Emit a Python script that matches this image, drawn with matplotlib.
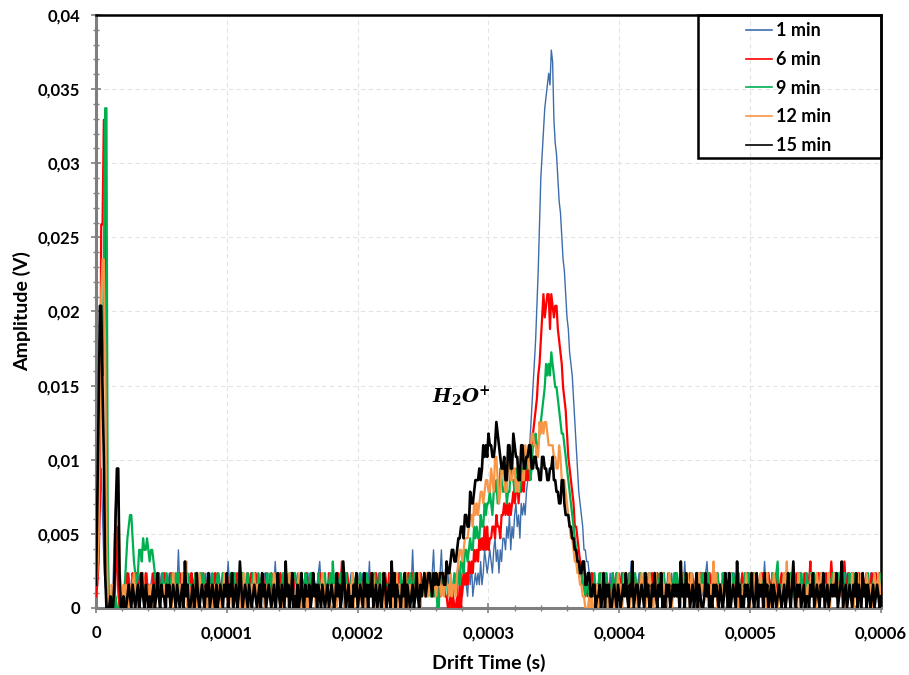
import string
import numpy as np
import matplotlib
matplotlib.use("Agg")
import matplotlib.pyplot as plt
from matplotlib.ticker import MultipleLocator, FuncFormatter
from matplotlib.patches import Rectangle

# sample spacing of the drift time axis (s) and ADC step of the amplitude (V)
T_STEP = 1e-6
ADC_STEP = 0.000784

# amplitudes, one character per sample = ADC level
# (0-9, A-Z = 10-35, a-z = 36-61); blocks: start spike / baseline / peak / baseline
LEVEL_CHARS = string.digits + string.ascii_uppercase + string.ascii_lowercase

LABELS = ["1 min", "6 min", "9 min", "12 min", "15 min"]
COLORS = ["#3d6dab", "#ff0000", "#00b050", "#f79646", "#000000"]
WIDTHS = [1.0, 1.6, 1.6, 1.6, 1.9]

LEVELS_1MIN = (
    "2369C84210 0102694100 1002132213 2132231223 12"
    "2312231232 1322312213 2523122312 3212322132 2231232213 1232213224 2312232131 2213223122 3221232312 2312242132"
    "1322313221 2232132213 3122321234 2213122312 2321232231 3123222132 2231322412 1322312232 2132231223 3221323212 52312232"
    "2312322352312352132312 2132142312 3213241232 3242354345 4356453546 6576857689 7869"
    "898ABDFHJL NQTXbdfhijkjml gedbZYWUTRPOML KIGECA98755443233212"
    "2231232213 1322123232 2123242132 2312232231 3122132223 2213223122 3223124212 2132231322 1234221322 2312213232"
    "3221323221 2132231223 2322312423 1223122312 2123223212 3212231322 3223122323 2132213223 2213232242 3122312213"
    "1232232132 1232212"
)
LEVELS_6MIN = (
    "1249XXggE3 0001037200 1021322132 2312321232 21"
    "2132223121 3212231322 2232132212 1322312232 3122321223 2312232132 2213223122 3221322312 3212232132 2132213223"
    "2231222312 3122132213 2123322123 2312213222 2213224122 3221322312 3221312232 2132232213 2132212322 3212231322 31222132"
    "231223122132213221 100201001020 232324343545 465657575667 768776889898 989A9AB9BABA"
    "CBCBDEFG HIKLNP RPQRRORQ PQQO NMLJIH FDCBA9 776543 221212132212"
    "2231223212 1322312232 3221322312 2132213223 2322132231 3122312213 2213222312 3221232132 3221232213 2312213222"
    "2132222312 3212312232 2322131222 3213223122 3212232312 2231322132 2241322132 3122312242 2322131242 1322312213"
    "2132231223 2132231"
)
LEVELS_9MIN = (
    "369MMKThh6 0010010001 0024678864 3235546556 54"
    "5543231223 1232223123 2312232132 2212322132 3221322312 2322132221 1322312232 3222312232 2132231223 1232223122"
    "2312213223 3212232132 2231322132 2223122314 2132231223 2212322312 3122132213 2322132232 2213223122 1322312232 13223122"
    "2321221312 2003223231 2212 3233244355 4565576766 8779899A98 AAB99CBAAB 9AACBBACBA ABCBDCCDBC"
    "EEFDEF GHIJLKLKML KJJIHGFF EDCBA987 65443322 1221221312"
    "2312223122 1322312213 3221322132 2132231223 2213222312 3122312232 3222132212 2312213223 2322312232 1322132213"
    "1223221322 2132231223 3122322132 2213223412 2231222312 3122132213 2132232212 2312213223 3221322231 2132231322"
    "2231223122 2312232"
)
LEVELS_12MIN = (
    "236IRUUM61 002137BB41 0212102123 1202123121 02"
    "1201221021 2102120312 2120312402 1021201321 1210212012 0212013120 2102121201 1302120213 1220121012 2101320121"
    "2012203121 0213102120 0212120121 1320121021 2101221302 0121302120 1212012212 3012021301 0121201230 2120130212 12121302"
    "2123122132 1232121322 131221 34554566 67887989 89AA9ABBAA CBADDB9ACC BAADCBBCCA BA"
    "CCBBEDDCCFFEEDDGFG FGGFEE EEDDCCEDBBBA 9876654433 221100010100 12"
    "0213212021 1020131201 3122013212 0213120213 2102312213 1201320121 1220312132 0312021302 2132021241 3021201213"
    "2312213021 0213120312 3212312203 1201321021 1232412132 0213021201 2123120321 3120213021 3212231202 0121302130"
    "1322132120 1321321"
)
LEVELS_15MIN = (
    "29HQQJD300 010028CC30 0100121021 0120131021 01"
    "0120131021 1021201210 2101204120 0120131012 1021301210 2012102130 2130120142 0121021012 1012031201 2101201310"
    "2104120130 1020131021 1201312021 0210120121 0131201420 1201021301 2103120213 0120120132 0120413021 1021302101 20131021"
    "2312332132 3223 332243345544 566776 8877A99ABB BCBCEDED FEEDDEGF EDCCDBBEEC CFEDDBBEEC CDDEECCD"
    "DCCBBDDCCBBCCD BBAA99BB9888 77665544 33442233112201"
    "1201302120 0121021012 1310214012 2012103120 0213102130 1021201212 1204120312 0120130210 0131201021 2102101320"
    "3012104120 1021201310 1302120312 0120210121 0120131024 1021201201 1021301210 2130120121 2130124012 0121021302"
    "1031202101 2012101"
)
SERIES = [LEVELS_1MIN, LEVELS_6MIN, LEVELS_9MIN, LEVELS_12MIN, LEVELS_15MIN]


def decode(code):
    levels = np.array([LEVEL_CHARS.index(c) for c in code.replace(" ", "")])
    return np.arange(len(levels)) * T_STEP, levels * ADC_STEP


plt.rcParams["font.family"] = ["Lato", "DejaVu Sans"]
plt.rcParams["font.weight"] = "bold"
plt.rcParams["mathtext.fontset"] = "dejavuserif"

fig = plt.figure(figsize=(9.09, 6.75), dpi=100)
ax = fig.add_axes([0.1056, 0.0993, 0.8636, 0.8785])

for code, label, color, lw in zip(SERIES, LABELS, COLORS, WIDTHS):
    t, amp = decode(code)
    ax.plot(t, amp, color=color, lw=lw, label=label, zorder=3)

ax.set_xlim(0, 0.0006)
ax.set_ylim(0, 0.04)
ax.xaxis.set_major_locator(MultipleLocator(0.0001))
ax.xaxis.set_minor_locator(MultipleLocator(0.00002))
ax.yaxis.set_major_locator(MultipleLocator(0.005))
ax.yaxis.set_minor_locator(MultipleLocator(0.001))
comma = FuncFormatter(lambda v, pos: "{:g}".format(round(v, 6)).replace(".", ","))
ax.xaxis.set_major_formatter(comma)
ax.yaxis.set_major_formatter(comma)

ax.grid(True, which="major", color="#e3e3e3", ls=(0, (4, 3)), lw=0.8, zorder=0)
ax.set_axisbelow(True)
ax.tick_params(which="major", direction="inout", length=7, width=1.2, color="#808080",
               labelsize=12, pad=8)
ax.tick_params(which="minor", direction="inout", length=5, width=1.0, color="#808080")
ax.tick_params(axis="x", which="major", pad=9)

for side in ["left", "bottom"]:
    ax.spines[side].set_color("#7f7f7f")
    ax.spines[side].set_linewidth(2.2)
for side in ["top", "right"]:
    ax.spines[side].set_color("black")
    ax.spines[side].set_linewidth(1.8)

ax.set_xlabel("Drift Time (s)", fontsize=14, fontweight="bold", labelpad=9)
ax.set_ylabel("Amplitude (V)", fontsize=14, fontweight="bold", labelpad=5)

ax.text(0.000257, 0.0138, r"$\mathbfit{H}_{\mathbf{2}}\mathbfit{O}^{\mathbf{+}}$",
        fontsize=14, ha="left", va="baseline")

leg = ax.legend(loc="upper left", bbox_to_anchor=(0.828, 0.988), frameon=False,
                borderpad=0, borderaxespad=0, handlelength=1.45, handletextpad=0.22,
                labelspacing=0.65, prop={"size": 13, "weight": "bold"})
for line in leg.get_lines():
    line.set_linewidth(1.2)
ax.add_patch(Rectangle((0.767, 0.759), 0.233, 0.241, transform=ax.transAxes,
                       fill=False, ec="black", lw=1.8, zorder=5, clip_on=False))

fig.savefig("out.png", dpi=100)
